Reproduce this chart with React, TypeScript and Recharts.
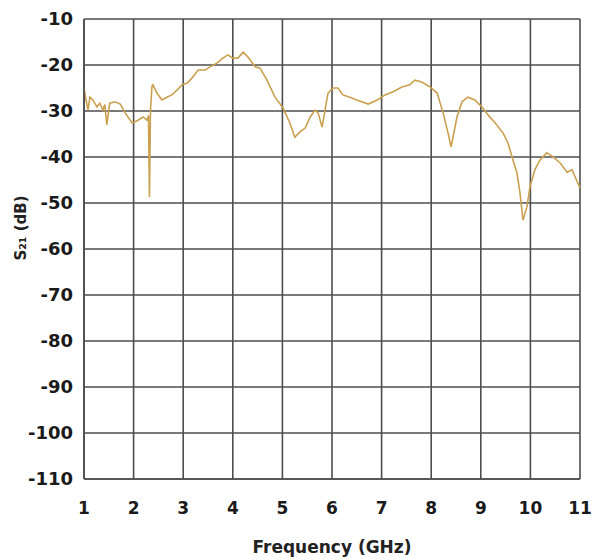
import { LineChart, Line, XAxis, YAxis, CartesianGrid, Label } from "recharts";

// S21 trace (frequency in GHz, magnitude in dB)
const freq = [
  1.0, 1.04, 1.08, 1.12, 1.18, 1.26, 1.32, 1.38, 1.42, 1.46, 1.52, 1.63, 1.73, 1.83, 1.97,
  2.09, 2.19, 2.27, 2.3, 2.32, 2.34, 2.37, 2.39, 2.47, 2.57, 2.67, 2.77, 2.88, 2.98, 3.08,
  3.18, 3.3, 3.44, 3.54, 3.68, 3.8, 3.9, 4.0, 4.1, 4.21, 4.31, 4.45, 4.55, 4.69, 4.85, 5.01,
  5.15, 5.25, 5.35, 5.46, 5.56, 5.66, 5.72, 5.8, 5.86, 5.92, 6.02, 6.12, 6.22, 6.36, 6.5,
  6.73, 6.91, 7.07, 7.23, 7.41, 7.57, 7.67, 7.81, 7.98, 8.12, 8.24, 8.34, 8.4, 8.44, 8.52,
  8.62, 8.74, 8.88, 9.02, 9.15, 9.29, 9.45, 9.55, 9.63, 9.73, 9.79, 9.85, 9.93, 9.99, 10.09,
  10.19, 10.33, 10.46, 10.6, 10.74, 10.84, 10.9, 11.0,
];
const s21 = [
  -25.0, -27.5, -29.8, -27.0, -27.6, -29.1, -28.3, -29.8, -28.6, -33.0, -28.3, -28.0, -28.5,
  -30.4, -32.6, -32.0, -31.3, -32.0, -31.0, -48.7, -30.0, -24.6, -24.3, -26.1, -27.6, -27.0,
  -26.5, -25.4, -24.3, -23.9, -22.8, -21.1, -21.1, -20.4, -19.6, -18.5, -17.8, -18.5, -18.5,
  -17.2, -18.3, -20.4, -20.7, -23.3, -27.0, -29.3, -32.6, -35.7, -34.6, -33.7, -31.3, -29.8,
  -30.4, -33.5, -29.8, -26.1, -25.0, -25.0, -26.5, -27.0, -27.6, -28.5, -27.6, -26.5, -25.8,
  -24.8, -24.3, -23.3, -23.7, -24.8, -26.1, -30.4, -34.8, -37.8, -35.7, -31.3, -28.0, -27.0,
  -27.6, -29.1, -30.9, -32.6, -34.8, -37.0, -40.0, -43.5, -47.8, -53.7, -50.9, -46.5, -42.8,
  -40.7, -39.1, -40.0, -41.3, -43.3, -42.8, -44.3, -46.7,
];
const xTicks = [1, 2, 3, 4, 5, 6, 7, 8, 9, 10, 11];
const yTicks = [-10, -20, -30, -40, -50, -60, -70, -80, -90, -100, -110];

const data = freq.map((f, i) => ({ f, s21: s21[i] }));

const tickStyle = {
  fontFamily: "DejaVu Sans",
  fontWeight: "bold",
  fontSize: 17,
  fill: "#1a1a1a",
};

// rotated y title, a bit above the plot's middle like the original
const YTitle = () => (
  <text
    x={21}
    y={228}
    transform="rotate(-90 21 228)"
    textAnchor="middle"
    dominantBaseline="central"
    fontFamily="DejaVu Sans"
    fontWeight="bold"
    fontSize={15}
    fill="#222"
  >
    S₂₁ (dB)
  </text>
);

export default function App() {
  return (
    <div style={{ position: "absolute", left: 0, top: 0, background: "#fff" }}>
      <LineChart
        width={595}
        height={559}
        data={data}
        margin={{ top: 19, right: 15, bottom: 0, left: 0 }}
      >
        <CartesianGrid stroke="#4d4d4d" strokeWidth={1.6} />
        <XAxis
          dataKey="f"
          type="number"
          domain={[1, 11]}
          ticks={xTicks}
          height={80}
          tickLine={false}
          axisLine={{ stroke: "#4d4d4d", strokeWidth: 1.6 }}
          tickMargin={17}
          tick={tickStyle}
        >
          <Label
            value="Frequency (GHz)"
            position="insideBottom"
            offset={6}
            style={{ ...tickStyle, fontSize: 17, fill: "#222" }}
          />
        </XAxis>
        <YAxis
          type="number"
          domain={[-110, -10]}
          ticks={yTicks}
          width={84}
          tickLine={false}
          axisLine={{ stroke: "#4d4d4d", strokeWidth: 1.6 }}
          tickMargin={5}
          tick={{ ...tickStyle, fontSize: 18 }}
        >
          <Label content={YTitle} />
        </YAxis>
        <Line
          type="linear"
          dataKey="s21"
          stroke="#c9a04e"
          strokeWidth={1.6}
          dot={false}
          isAnimationActive={false}
        />
      </LineChart>
    </div>
  );
}
